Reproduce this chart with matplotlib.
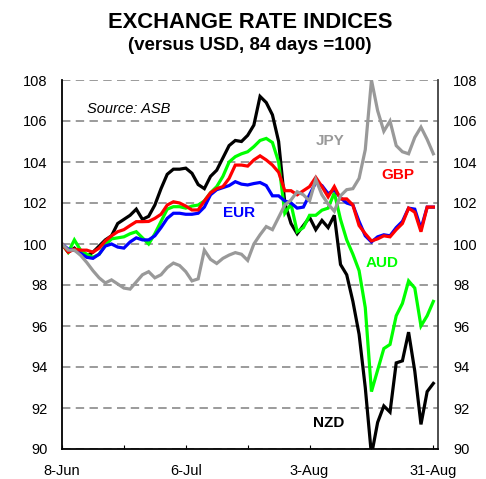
import numpy as np
import pandas as pd
import matplotlib
matplotlib.use("Agg")
import matplotlib.pyplot as plt

plt.rcParams["font.family"] = ["Liberation Sans", "DejaVu Sans"]

# business days, 8-Jun-2007 .. 31-Aug-2007 (plotted as evenly spaced categories)
dates = pd.bdate_range("2007-06-08", "2007-08-31")

nzd = [100.0, 99.6, 99.8, 99.5, 99.4, 99.6, 99.9, 100.2, 100.4, 101.0,
       101.2, 101.4, 101.7, 101.2, 101.35, 101.9, 102.7, 103.4, 103.65, 103.65,
       103.7, 103.45, 102.9, 102.7, 103.3, 103.6, 104.2, 104.8, 105.05, 105.0,
       105.3, 105.8, 107.2, 106.9, 106.3, 105.0, 102.0, 101.0, 100.5, 100.9,
       101.3, 100.7, 101.15, 100.8, 101.4, 99.0, 98.5, 97.2, 95.6, 93.0,
       89.7, 91.3, 92.1, 91.8, 94.2, 94.3, 95.7, 93.8, 91.2, 92.8,
       93.2]
aud = [100.0, 99.6, 100.2, 99.7, 99.5, 99.35, 99.5, 99.95, 100.25, 100.3,
       100.35, 100.5, 100.6, 100.3, 100.0, 100.5, 101.1, 101.7, 101.82, 101.82,
       101.75, 101.85, 101.9, 102.1, 102.5, 102.8, 103.3, 104.0, 104.26, 104.4,
       104.5, 104.75, 105.05, 105.15, 104.95, 104.0, 101.5, 101.95, 100.6, 100.8,
       101.4, 101.4, 101.65, 101.75, 102.5, 101.2, 100.2, 99.5, 98.7, 96.9,
       92.8, 93.85, 94.9, 95.1, 96.5, 97.1, 98.2, 97.85, 96.0, 96.5,
       97.2]
gbp = [100.0, 99.6, 99.75, 99.7, 99.7, 99.6, 99.8, 100.15, 100.4, 100.6,
       100.7, 100.9, 101.09, 101.09, 101.1, 101.25, 101.45, 101.9, 102.06, 102.0,
       101.85, 101.66, 101.66, 102.1, 102.5, 102.7, 102.8, 103.2, 103.85, 103.85,
       103.8, 104.1, 104.3, 104.1, 103.85, 103.5, 102.6, 102.6, 102.4, 102.6,
       102.8, 103.25, 102.8, 102.3, 102.8, 102.2, 102.2, 101.9, 100.9, 100.5,
       100.15, 100.25, 100.4, 100.35, 100.7, 101.0, 101.75, 101.55, 100.6, 101.8,
       101.8]
eur = [100.0, 99.75, 99.7, 99.55, 99.35, 99.3, 99.5, 99.9, 100.0, 99.85,
       99.8, 100.1, 100.3, 100.2, 100.2, 100.4, 100.8, 101.25, 101.5, 101.5,
       101.45, 101.45, 101.5, 101.8, 102.4, 102.65, 102.75, 102.85, 103.04, 102.92,
       102.88, 102.95, 103.0, 102.85, 102.35, 102.35, 102.1, 102.0, 101.75, 101.8,
       102.4, 103.0, 102.85, 102.45, 102.65, 102.25, 102.0, 101.9, 101.1, 100.4,
       100.1, 100.35, 100.45, 100.4, 100.8, 101.1, 101.75, 101.7, 100.75, 101.8,
       101.8]
jpy = [100.0, 99.7, 99.7, 99.45, 99.1, 98.7, 98.35, 98.1, 98.25, 98.05,
       97.85, 97.8, 98.15, 98.5, 98.65, 98.35, 98.5, 98.85, 99.07, 98.95,
       98.65, 98.2, 98.3, 99.7, 99.25, 99.05, 99.3, 99.46, 99.58, 99.5,
       99.2, 100.0, 100.45, 100.85, 100.7, 101.3, 101.9, 102.15, 102.55, 102.4,
       102.1, 103.15, 102.4, 101.95, 101.6, 102.35, 102.65, 102.7, 103.2, 104.6,
       108.0, 106.5, 105.5, 106.0, 104.8, 104.5, 104.4, 105.2, 105.7, 105.1,
       104.4]

series = [
    ("NZD", nzd, "#000000"),
    ("AUD", aud, "#00FF00"),
    ("EUR", eur, "#0000FF"),
    ("GBP", gbp, "#FF0000"),
    ("JPY", jpy, "#999999"),
]

fig = plt.figure(figsize=(4.86, 4.79), dpi=100)
ax = fig.add_axes([62 / 486, 1 - 449 / 479, (438.3 - 62) / 486, (449 - 80) / 479])

x = np.arange(len(dates))
for name, vals, col in series:
    ax.plot(x, vals, color=col, lw=2.3, solid_joinstyle="miter", clip_on=True)

ax.set_xlim(0, 60.8)
ax.set_ylim(90, 108)
ax.set_yticks(np.arange(90, 109, 2))
ax.yaxis.grid(True, color="#808080", lw=1.1, linestyle=(0, (5.5, 3.5)))
ax.set_axisbelow(True)

major = [0, 20, 40, 60]
ax.set_xticks(major)
ax.set_xticklabels([f"{dates[i].day}-{dates[i]:%b}" for i in major], fontsize=10.5)
ax.set_xticks([10, 30, 50], minor=True)
ax.tick_params(axis="x", which="both", direction="in", length=3, width=0.8, pad=11)
ax.tick_params(axis="y", length=0, labelleft=True, labelright=True, labelsize=10.5, pad=10.5)

ax.spines["top"].set_visible(False)
ax.spines["right"].set_color("#404040")
ax.spines["left"].set_linewidth(1.3)
ax.spines["bottom"].set_linewidth(1.3)
ax.spines["right"].set_linewidth(1.3)

ax.text(4.06, 106.58, "Source: ASB", fontsize=10.5, style="italic", ha="left", va="center")
lab_kw = dict(fontsize=11, fontweight="bold", ha="center", va="center")
ax.text(43.3, 105.02, "JPY", color="#999999", **lab_kw)
ax.text(54.3, 103.37, "GBP", color="#FF0000", **lab_kw)
ax.text(28.6, 101.49, "EUR", color="#0000FF", **lab_kw)
ax.text(51.8, 99.05, "AUD", color="#00FF00", **lab_kw)
ax.text(43.1, 91.29, "NZD", color="#000000", **lab_kw)

fig.text(0.514, 1 - 22.5 / 479, "EXCHANGE RATE INDICES", fontsize=15.8,
         fontweight="bold", ha="center", va="center")
fig.text(0.514, 1 - 46 / 479, "(versus USD, 84 days =100)", fontsize=13.5,
         fontweight="bold", ha="center", va="center")

fig.savefig("out.png", dpi=100)
